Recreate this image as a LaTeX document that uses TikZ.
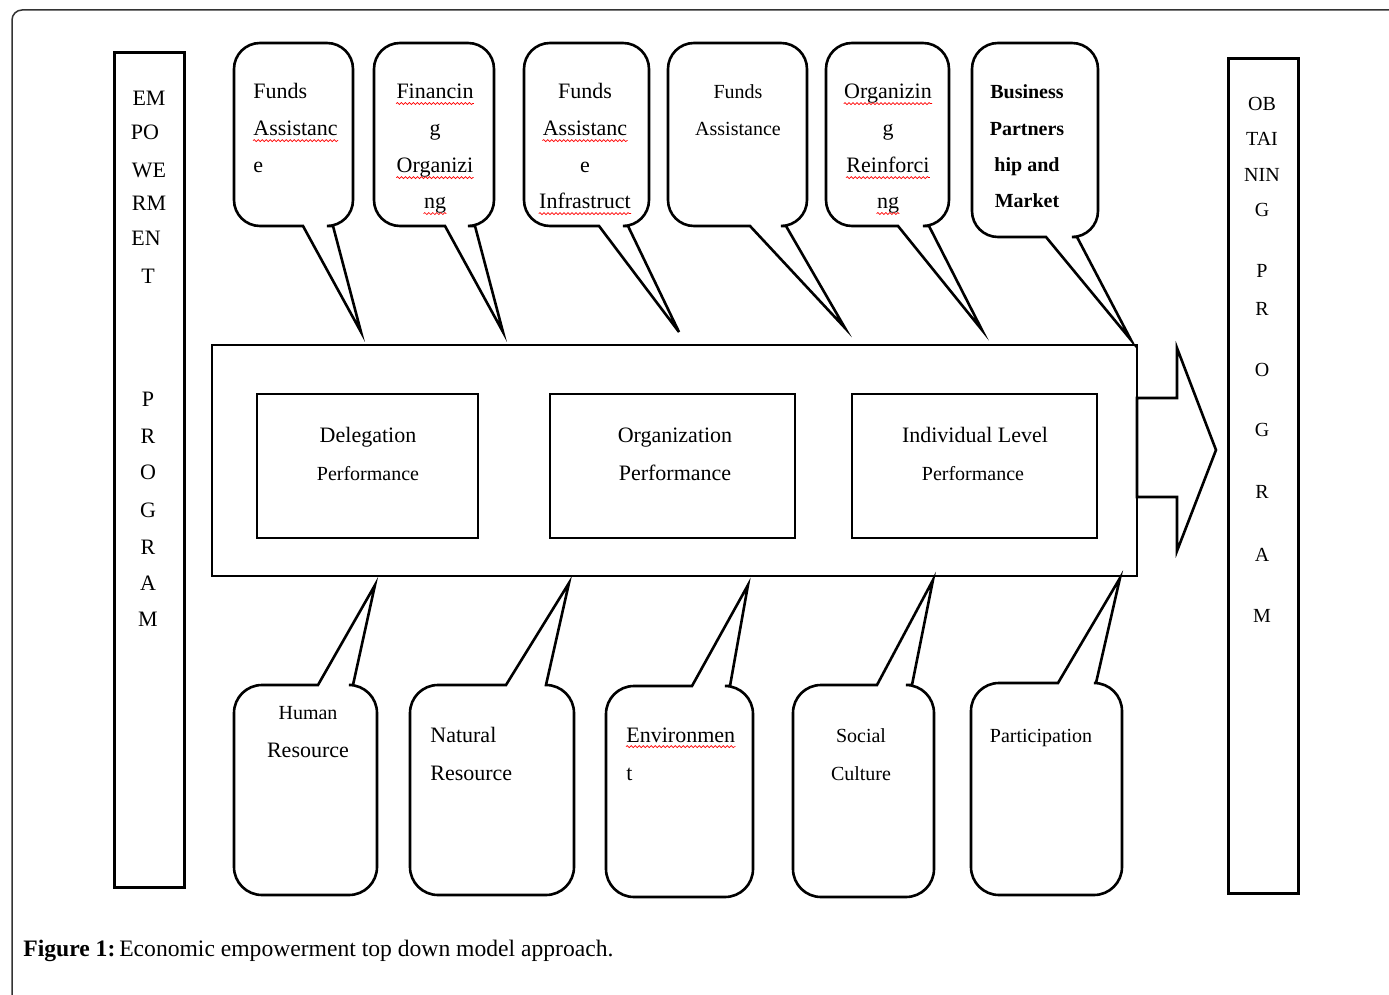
\documentclass[tikz,border=0pt]{standalone}
\usepackage{fontspec}
\setmainfont{Liberation Serif}
\usetikzlibrary{decorations.pathmorphing}
\tikzset{
  txt/.style={font=\fontsize{11}{13}\selectfont, inner sep=0pt},
  sm/.style={font=\fontsize{10}{12}\selectfont},
  bd/.style={font=\fontsize{10}{12}\selectfont\bfseries},
  bub/.style={line width=1.3pt, draw=black},
  bar/.style={draw, line width=1.5pt, inner sep=0pt},
  thinbox/.style={draw, line width=0.75pt, inner sep=0pt},
  wavy/.style={red, line width=0.35pt, decorate, decoration={snake, amplitude=0.5pt, segment length=2pt}},
}
% top bubble: L T R B xl xr tipx tipy
\newcommand\bubdown[8]{%
  \draw[bub] (#5,#4) -- (#7,#8) -- (#6,#4) -- ({#3-26},#4)
    arc[start angle=-90,end angle=0,radius=13pt] -- (#3,{#2+26})
    arc[start angle=0,end angle=90,radius=13pt] -- ({#1+26},#2)
    arc[start angle=90,end angle=180,radius=13pt] -- (#1,{#4-26})
    arc[start angle=180,end angle=270,radius=13pt] -- cycle;}
% bottom bubble: L T R B xl xr tipx tipy
\newcommand\bubup[8]{%
  \draw[bub] (#6,#2) -- (#7,#8) -- (#5,#2) -- ({#1+28},#2)
    arc[start angle=90,end angle=180,radius=14pt] -- (#1,{#4-28})
    arc[start angle=180,end angle=270,radius=14pt] -- ({#3-28},#4)
    arc[start angle=270,end angle=360,radius=14pt] -- (#3,{#2+28})
    arc[start angle=0,end angle=90,radius=14pt] -- cycle;}
\newcommand\lineat[4][anchor=base]{\node[txt,#1] (#2) at (#3) {#4};}
\newcommand\wav[1]{\draw[wavy] ([yshift=-2.3pt]#1.base west) -- ([yshift=-2.3pt]#1.base east);}
\begin{document}
\begin{tikzpicture}[x=0.5pt,y=-0.5pt]
\useasboundingbox (0,0) rectangle (1389,995);
% outer frame
\draw[line width=0.75pt, black!80] (12,995) -- (12,20) arc[start angle=180,end angle=90,radius=5pt] -- (1389,10);

% side bars
\node[bar, minimum width=35pt, minimum height=417pt] (lbar) at (149,470) {};
\node[bar, minimum width=35pt, minimum height=417pt] (rbar) at (1263,476) {};
\foreach \t/\x/\y [count=\i] in {EM/149/106, PO/145/140, WE/149/177, RM/149/211, EN/146/246, T/148/284,
  P/148/406, R/148/443, O/148/479, G/148/517, R/148/554, A/148/590, M/148/626}
  \node[txt, anchor=base] (l\i) at (\x,\y) {\t};
\foreach \t/\x/\y [count=\i] in {OB/1262/111, TAI/1262/146, NIN/1262/182, G/1262/217, P/1262/278, R/1262/315,
  O/1262/376, G/1262/437, R/1262/498, A/1262/561, M/1262/622}
  \node[txt, sm, anchor=base] (r\i) at (\x,\y) {\t};

% main rectangle and inner boxes
\node[thinbox, minimum width=462.5pt, minimum height=115.5pt] (main) at (674.5,460.5) {};
\node[thinbox, minimum width=110.5pt, minimum height=72pt] (bx1) at (367.5,466) {};
\node[thinbox, minimum width=122.5pt, minimum height=72pt] (bx2) at (672.5,466) {};
\node[thinbox, minimum width=122.5pt, minimum height=72pt] (bx3) at (974.5,466) {};
\lineat{d1}{368,442}{Delegation}
\lineat[sm,anchor=base]{d2}{368,480}{Performance}
\lineat{o1}{675,442}{Organization}
\lineat{o2}{675,480}{Performance}
\lineat{i1}{975,442}{Individual Level}
\lineat[sm,anchor=base]{i2}{973,480}{Performance}

% big arrow
\draw[line width=1.3pt, line join=miter] (1137,398) -- (1177,398) -- (1177,348) -- (1216,450)
  -- (1177,551) -- (1177,497) -- (1137,497) -- cycle;

% top bubbles
\bubdown{234}{43}{353}{226}{303}{333}{361}{332}
\bubdown{374}{43}{494}{226}{445}{475}{503}{332}
\bubdown{524}{43}{649}{226}{599}{628}{679}{332}
\bubdown{668}{43}{807}{226}{750}{786}{845}{328}
\bubdown{826}{43}{949}{226}{898}{929}{982}{330}
\bubdown{972}{43}{1098}{237}{1046}{1077}{1131}{340}

\lineat[anchor=base west]{t1a}{253,99}{Funds}
\lineat[anchor=base west]{t1b}{253,136}{Assistanc}\wav{t1b}
\lineat[anchor=base west]{t1c}{253,173}{e}

\lineat{t2a}{435,99}{Financin}\wav{t2a}
\lineat{t2b}{435,136}{g}
\lineat{t2c}{435,173}{Organizi}\wav{t2c}
\lineat{t2d}{435,209}{ng}\wav{t2d}

\lineat{t3a}{585,99}{Funds}
\lineat{t3b}{585,136}{Assistanc}\wav{t3b}
\lineat{t3c}{585,173}{e}
\lineat{t3d}{585,209}{Infrastruct}\wav{t3d}

\lineat[sm,anchor=base]{t4a}{738,99}{Funds}
\lineat[sm,anchor=base]{t4b}{738,136}{Assistance}

\lineat{t5a}{888,99}{Organizin}\wav{t5a}
\lineat{t5b}{888,136}{g}
\lineat{t5c}{888,173}{Reinforci}\wav{t5c}
\lineat{t5d}{888,209}{ng}\wav{t5d}

\lineat[bd,anchor=base]{t6a}{1027,99}{Business}
\lineat[bd,anchor=base]{t6b}{1027,136}{Partners}
\lineat[bd,anchor=base]{t6c}{1027,172}{hip and}
\lineat[bd,anchor=base]{t6d}{1027,208}{Market}

% bottom bubbles
\bubup{234}{685}{377}{895}{318}{353}{375}{585}
\bubup{410}{685}{574}{895}{506}{546}{569}{583}
\bubup{606}{686}{753}{897}{692}{730}{748}{585}
\bubup{793}{685}{934}{897}{877}{912}{933}{580}
\bubup{971}{683}{1122}{895}{1058}{1096}{1120}{578}

\lineat[sm,anchor=base]{c1a}{308,719}{Human}
\lineat{c1b}{308,757}{Resource}
\lineat[anchor=base west]{c2a}{430,742}{Natural}
\lineat[anchor=base west]{c2b}{430,780}{Resource}
\lineat[anchor=base west]{c3a}{626,742}{Environmen}\wav{c3a}
\lineat[anchor=base west]{c3b}{626,780}{t}
\lineat[sm,anchor=base]{c4a}{861,742}{Social}
\lineat[sm,anchor=base]{c4b}{861,780}{Culture}
\lineat[sm,anchor=base]{c5a}{1041,742}{Participation}

% caption
\node[inner sep=0pt, anchor=base west, font=\fontsize{11.8}{14}\selectfont] (cap) at (23,956)
  {\textbf{Figure 1:}\,Economic empowerment top down model approach.};
\end{tikzpicture}
\end{document}
